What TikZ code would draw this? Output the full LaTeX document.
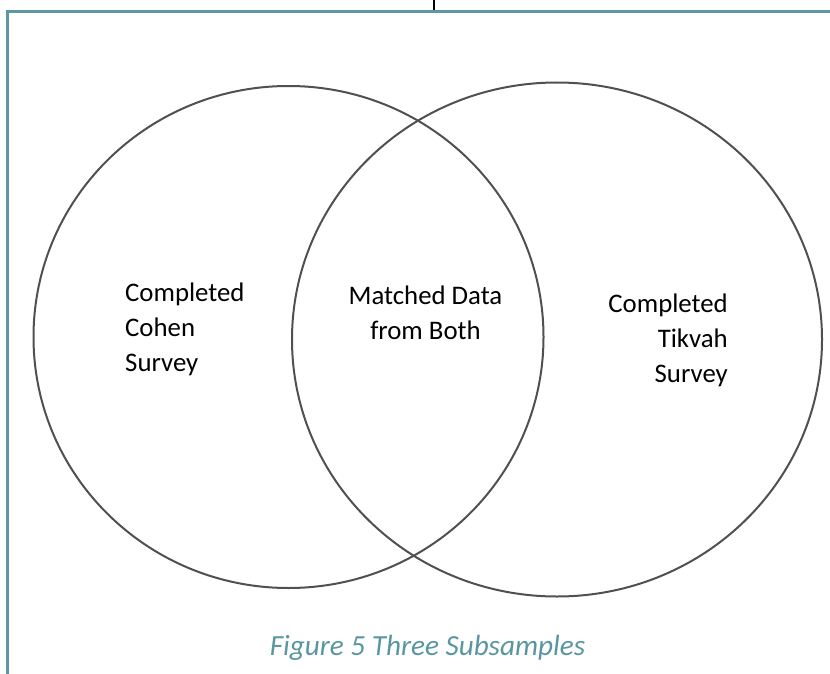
\documentclass[tikz,border=0pt]{standalone}
\usepackage{fontspec}
\setmainfont{Carlito}
\usetikzlibrary{shapes.geometric}
\definecolor{frameteal}{HTML}{5B98A0}
\definecolor{capteal}{HTML}{5A96A0}
\definecolor{circgray}{HTML}{505050}
\tikzset{
  venn/.style={draw=circgray, line width=2pt, ellipse, inner sep=0pt, outer sep=0pt},
  border/.style={draw=frameteal, line width=3pt},
  lbl/.style={font=\fontsize{26.8}{35}\selectfont, inner sep=0pt},
}
\begin{document}
\begin{tikzpicture}[x=1pt,y=-1pt]
\useasboundingbox (0,0) rectangle (830,674);
\coordinate (tl) at (7,11.5);
\coordinate (tr) at (830,11.5);
\coordinate (bl) at (7,674);
\draw[border] (tr) -- (tl) -- (bl);
\coordinate (tickA) at (434,0);
\coordinate (tickB) at (434,10);
\draw[line width=1.3pt] (tickA) -- (tickB);
\node[venn, minimum width=510pt, minimum height=502pt] (lc) at (288.5,337) {};
\node[venn, minimum width=530pt, minimum height=514pt] (rc) at (557,339.5) {};
\node[lbl, align=left, anchor=base west] (cohen) at (125,371) {Completed\\Cohen\\Survey};
\node[lbl, align=center, anchor=base] (match) at (425.5,339.3) {Matched Data\\from Both};
\node[lbl, align=right, anchor=base east] (tikvah) at (728,382.7) {Completed\\Tikvah\\Survey};
\node[font=\fontsize{29.2}{32}\selectfont\itshape, text=capteal, inner sep=0pt, anchor=base] (cap) at (427.5,655) {Figure 5 Three Subsamples};
\end{tikzpicture}
\end{document}
